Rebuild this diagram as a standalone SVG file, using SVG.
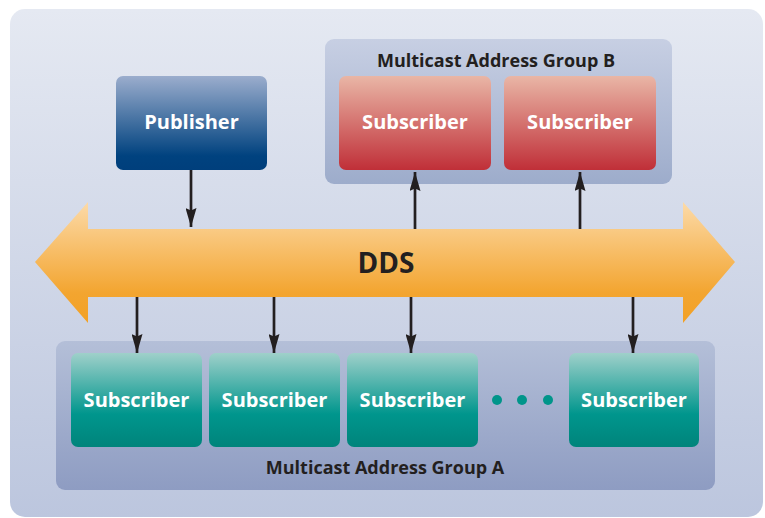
<svg xmlns="http://www.w3.org/2000/svg" width="765" height="518" viewBox="0 0 765 518">
  <defs>
    <linearGradient id="bg" x1="0" y1="0" x2="0" y2="1">
      <stop offset="0" stop-color="#e5e9f2"/>
      <stop offset="1" stop-color="#bcc6de"/>
    </linearGradient>
    <linearGradient id="grpB" x1="0" y1="0" x2="0" y2="1">
      <stop offset="0" stop-color="#c7cfe3"/>
      <stop offset="1" stop-color="#9daccb"/>
    </linearGradient>
    <linearGradient id="grpA" x1="0" y1="0" x2="0" y2="1">
      <stop offset="0" stop-color="#b4bfd8"/>
      <stop offset="1" stop-color="#8e9cc2"/>
    </linearGradient>
    <linearGradient id="pub" x1="0" y1="0" x2="0" y2="1">
      <stop offset="0" stop-color="#9badcd"/>
      <stop offset="0.85" stop-color="#00427f"/>
      <stop offset="1" stop-color="#003f7c"/>
    </linearGradient>
    <linearGradient id="red" x1="0" y1="0" x2="0" y2="1">
      <stop offset="0" stop-color="#e9b6a6"/>
      <stop offset="1" stop-color="#c02f38"/>
    </linearGradient>
    <linearGradient id="teal" x1="0" y1="0" x2="0" y2="1">
      <stop offset="0" stop-color="#9fd0ca"/>
      <stop offset="0.65" stop-color="#00968d"/>
      <stop offset="1" stop-color="#00847b"/>
    </linearGradient>
    <linearGradient id="bus" x1="0" y1="0" x2="0" y2="1">
      <stop offset="0" stop-color="#fcdaa8"/>
      <stop offset="0.75" stop-color="#f3a530"/>
      <stop offset="1" stop-color="#f2a126"/>
    </linearGradient>
    <!-- filled triangular arrowhead, tip at the end of the line -->
    <marker id="head" viewBox="0 0 19 11" refX="19" refY="5.5" markerWidth="19" markerHeight="11" markerUnits="userSpaceOnUse" orient="auto">
      <path d="M0,0 L19,5.5 L0,11 L2.5,5.5 Z" fill="#231f20"/>
    </marker>
    <style>
      .lbl { font-family: "Open Sans", "Noto Sans", "DejaVu Sans", sans-serif; font-weight: 700; fill: #ffffff; font-size: 20px; text-anchor: middle; dominant-baseline: central; }
      .grp { font-family: "Open Sans", "Noto Sans", "DejaVu Sans", sans-serif; font-weight: 700; fill: #231f20; font-size: 18px; text-anchor: middle; }
      .wire { stroke: #231f20; stroke-width: 2.7; fill: none; }
    </style>
  </defs>

  <!-- backdrop panel -->
  <rect x="10" y="9" width="753" height="508" rx="15" fill="url(#bg)"/>

  <!-- multicast groups -->
  <g id="group-b">
    <rect x="325" y="39" width="347" height="145" rx="9" fill="url(#grpB)"/>
    <text class="grp" x="496" y="67">Multicast Address Group B</text>
  </g>
  <g id="group-a">
    <rect x="56" y="341" width="659" height="149" rx="9" fill="url(#grpA)"/>
    <text class="grp" x="385" y="474">Multicast Address Group A</text>
  </g>

  <!-- DDS bus -->
  <g id="dds">
    <path d="M35,262 L88,202 L88,229 L683,229 L683,202 L735,262 L683,323 L683,297 L88,297 L88,323 Z" fill="url(#bus)"/>
    <text x="386" y="262" font-family="'Open Sans', 'Noto Sans', 'DejaVu Sans', sans-serif" font-weight="700" font-size="28" fill="#231f20" text-anchor="middle" dominant-baseline="central">DDS</text>
  </g>

  <g id="publisher">
    <rect x="116" y="76" width="151" height="94" rx="7" fill="url(#pub)"/>
    <text class="lbl" x="191.5" y="121">Publisher</text>
  </g>

  <g id="sub-b1">
    <rect x="339" y="76" width="152" height="94" rx="7" fill="url(#red)"/>
    <text class="lbl" x="415" y="121">Subscriber</text>
  </g>
  <g id="sub-b2">
    <rect x="504" y="76" width="152" height="94" rx="7" fill="url(#red)"/>
    <text class="lbl" x="580" y="121">Subscriber</text>
  </g>

  <g id="sub-a1">
    <rect x="71" y="353" width="131" height="94" rx="7" fill="url(#teal)"/>
    <text class="lbl" x="136.5" y="399">Subscriber</text>
  </g>
  <g id="sub-a2">
    <rect x="209" y="353" width="131" height="94" rx="7" fill="url(#teal)"/>
    <text class="lbl" x="274.5" y="399">Subscriber</text>
  </g>
  <g id="sub-a3">
    <rect x="347" y="353" width="131" height="94" rx="7" fill="url(#teal)"/>
    <text class="lbl" x="412.5" y="399">Subscriber</text>
  </g>
  <g id="ellipsis" fill="#00958a">
    <circle cx="497" cy="400" r="5"/>
    <circle cx="522" cy="400" r="5"/>
    <circle cx="548" cy="400" r="5"/>
  </g>
  <g id="sub-a4">
    <rect x="569" y="353" width="130" height="94" rx="7" fill="url(#teal)"/>
    <text class="lbl" x="634" y="399">Subscriber</text>
  </g>

  <!-- connectors -->
  <g id="connectors" class="wire">
    <line x1="191" y1="170" x2="191" y2="227" marker-end="url(#head)"/>
    <line x1="415" y1="229" x2="415" y2="172" marker-end="url(#head)"/>
    <line x1="580" y1="229" x2="580" y2="172" marker-end="url(#head)"/>
    <line x1="137" y1="297" x2="137" y2="353" marker-end="url(#head)"/>
    <line x1="274" y1="297" x2="274" y2="353" marker-end="url(#head)"/>
    <line x1="411" y1="297" x2="411" y2="353" marker-end="url(#head)"/>
    <line x1="633" y1="297" x2="633" y2="353" marker-end="url(#head)"/>
  </g>
</svg>
